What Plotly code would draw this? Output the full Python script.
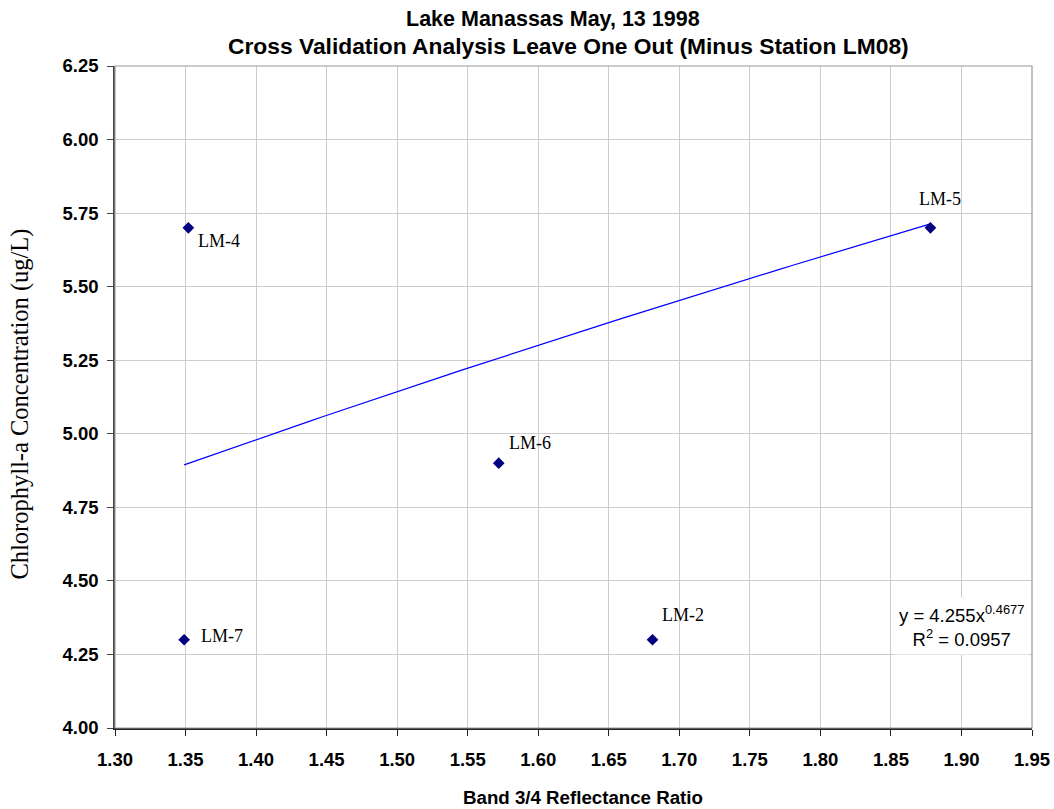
import numpy as np
import plotly.graph_objects as go

# Station observations: band ratio vs chlorophyll-a
stations = ["LM-4", "LM-7", "LM-6", "LM-2", "LM-5"]
band_ratio = [1.352, 1.349, 1.572, 1.681, 1.878]
chl_a = [5.70, 4.30, 4.90, 4.30, 5.70]

# Power trendline coefficients  y = a * x^b
coef_a = 4.255
coef_b = 0.4677
r_squared = 0.0957

# label offsets (pixels) for each station label
label_dx = [8, 15, 8, 7, -13]
label_dy = [-13, 4, 20, 25, 29]

x_ticks = [1.30, 1.35, 1.40, 1.45, 1.50, 1.55, 1.60, 1.65, 1.70, 1.75, 1.80, 1.85, 1.90, 1.95]
y_ticks = [4.00, 4.25, 4.50, 4.75, 5.00, 5.25, 5.50, 5.75, 6.00, 6.25]

fit_x = np.linspace(min(band_ratio), max(band_ratio), 60)
fit_y = coef_a * fit_x ** coef_b

fig = go.Figure()
fig.add_trace(go.Scatter(x=fit_x, y=fit_y, mode="lines",
                         line=dict(color="#0000FF", width=1.2),
                         hoverinfo="skip", showlegend=False))
fig.add_trace(go.Scatter(x=band_ratio, y=chl_a, mode="markers",
                         marker=dict(symbol="diamond", size=9, color="#000080"),
                         text=stations, showlegend=False))

serif = "Liberation Serif, Times New Roman, serif"
sans = "Liberation Sans, Arial, sans-serif"

annotations = []
for name, xv, yv, dx, dy in zip(stations, band_ratio, chl_a, label_dx, label_dy):
    annotations.append(dict(x=xv, y=yv, xref="x", yref="y", text=name, showarrow=False,
                            xanchor="left", yanchor="middle", xshift=dx, yshift=dy,
                            font=dict(family=serif, size=18, color="black")))

# two-line title
annotations.append(dict(x=0.478, y=1.071, xref="paper", yref="paper",
                        text="<b>Lake Manassas May, 13 1998</b>", showarrow=False,
                        xanchor="center", yanchor="middle",
                        font=dict(family=sans, size=21.5, color="black")))
annotations.append(dict(x=0.495, y=1.030, xref="paper", yref="paper",
                        text="<b>Cross Validation Analysis Leave One Out (Minus Station LM08)</b>",
                        showarrow=False, xanchor="center", yanchor="middle",
                        font=dict(family=sans, size=22.8, color="black")))
# axis titles
annotations.append(dict(x=0.510, y=-0.1057, xref="paper", yref="paper",
                        text="<b>Band 3/4 Reflectance Ratio</b>", showarrow=False,
                        xanchor="center", yanchor="middle",
                        font=dict(family=sans, size=18.7, color="black")))
annotations.append(dict(x=-0.1036, y=0.49, xref="paper", yref="paper",
                        text="Chlorophyll-a Concentration (ug/L)", showarrow=False,
                        textangle=-90, xanchor="center", yanchor="middle",
                        font=dict(family=serif, size=24.5, color="black")))
# trendline equation box
annotations.append(dict(x=1.0, y=0.154, xref="paper", yref="paper",
                        text=f"y = {coef_a:.3f}x<sup>{coef_b:.4f}</sup><br>R<sup>2</sup> = {r_squared:.4f}",
                        showarrow=False, xanchor="right", yanchor="middle", align="center",
                        xshift=-3, bgcolor="white", borderpad=4,
                        font=dict(family=sans, size=18.5, color="black")))

fig.update_layout(
    width=1054, height=809,
    margin=dict(l=115, r=22, t=66, b=81, autoexpand=False),
    paper_bgcolor="white", plot_bgcolor="white",
    annotations=annotations,
    shapes=[dict(type="rect", xref="paper", yref="paper", x0=0, y0=0, x1=1, y1=1,
                 line=dict(color="#9a9a9a", width=1.2), layer="above")],
)
fig.update_xaxes(range=[1.30, 1.95], tickvals=x_ticks,
                 ticktext=[f"{v:.2f}" for v in x_ticks],
                 showgrid=True, gridcolor="#cccccc", gridwidth=1,
                 showline=True, linecolor="#222222", linewidth=1.5,
                 ticks="outside", ticklen=6, tickcolor="#222222",
                 ticklabelstandoff=8, automargin=False,
                 tickfont=dict(family=sans, size=18.5, color="black", weight="bold"),
                 zeroline=False)
fig.update_yaxes(range=[4.00, 6.25], tickvals=y_ticks,
                 ticktext=[f"{v:.2f}" for v in y_ticks],
                 showgrid=True, gridcolor="#cccccc", gridwidth=1,
                 showline=True, linecolor="#444444", linewidth=1.5,
                 ticks="outside", ticklen=6, tickcolor="#444444",
                 ticklabelstandoff=5, automargin=False,
                 tickfont=dict(family=sans, size=18.5, color="black", weight="bold"),
                 zeroline=False)

fig.write_html("out.html")
